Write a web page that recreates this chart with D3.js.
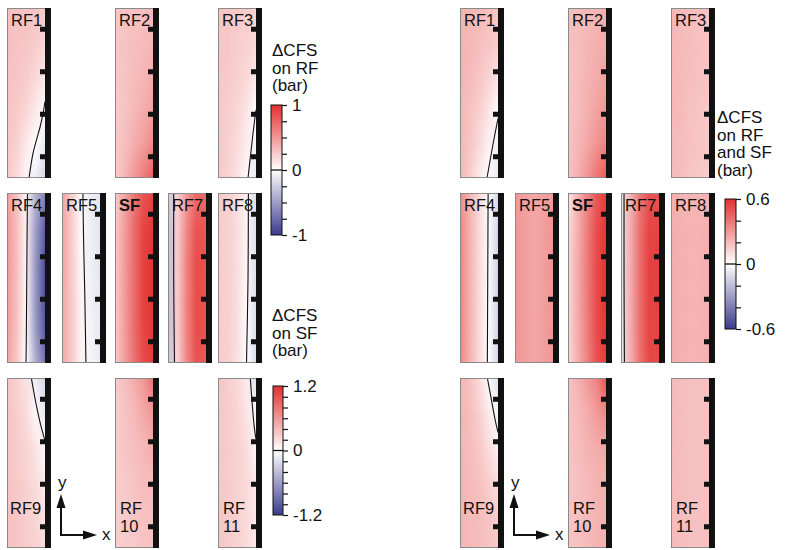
<!DOCTYPE html>
<html><head><meta charset="utf-8">
<script src="https://cdn.jsdelivr.net/npm/d3@7"></script>
<style>
body{margin:0;background:#fff}
svg{display:block}
text{font-family:"Liberation Sans",Arial,sans-serif;fill:#111}
</style>
</head><body><svg id="c" width="786" height="550"></svg>
<script>
// ---------- DATA ----------
// sampling positions inside each panel (fraction across x, fraction down y)
const uStops = [0, 0.25, 0.5, 0.75, 1];
const vStops = [0, 0.2, 0.4, 0.6, 0.8, 1];
const panelNames = ["RF1","RF2","RF3","RF4","RF5","SF","RF7","RF8","RF9","RF10","RF11"];

// Left block: ΔCFS on RF (bar), SF panel: ΔCFS on SF (bar)
const A_RF1 = [[0.31,0.30,0.29,0.28,0.26],[0.31,0.29,0.28,0.25,0.20],[0.30,0.28,0.25,0.19,0.11],[0.29,0.26,0.20,0.11,-0.02],[0.28,0.22,0.11,0.00,-0.11],[0.27,0.18,0.05,-0.09,-0.22]];
const A_RF2 = [[0.28,0.29,0.30,0.31,0.33],[0.27,0.29,0.31,0.33,0.35],[0.26,0.29,0.32,0.35,0.40],[0.25,0.29,0.34,0.40,0.46],[0.25,0.31,0.39,0.47,0.57],[0.25,0.35,0.50,0.64,0.78]];
const A_RF3 = [[0.28,0.27,0.26,0.24,0.22],[0.28,0.27,0.24,0.22,0.19],[0.27,0.26,0.23,0.19,0.11],[0.27,0.24,0.20,0.13,0.01],[0.27,0.23,0.18,0.09,-0.04],[0.26,0.22,0.14,0.03,-0.11]];
const A_RF4 = [[0.48,0.30,0.06,-0.38,-0.62],[0.50,0.32,0.07,-0.48,-0.82],[0.50,0.32,0.06,-0.52,-0.90],[0.50,0.31,0.05,-0.52,-0.90],[0.48,0.30,0.03,-0.50,-0.85],[0.45,0.27,0.00,-0.40,-0.70]];
const A_RF5 = [[0.46,0.24,0.02,-0.09,-0.13],[0.46,0.25,0.03,-0.09,-0.13],[0.46,0.25,0.04,-0.08,-0.13],[0.45,0.26,0.05,-0.07,-0.12],[0.44,0.26,0.06,-0.06,-0.11],[0.44,0.26,0.06,-0.05,-0.11]];
const A_SF  = [[0.28,0.52,0.78,1.00,1.08],[0.30,0.56,0.84,1.08,1.16],[0.30,0.57,0.85,1.10,1.18],[0.30,0.57,0.85,1.10,1.18],[0.30,0.56,0.84,1.08,1.16],[0.30,0.55,0.81,1.04,1.12]];
const A_RF7 = [[-0.26,0.22,0.50,0.72,0.72],[-0.32,0.25,0.58,0.83,0.80],[-0.32,0.25,0.61,0.86,0.83],[-0.32,0.25,0.61,0.86,0.83],[-0.32,0.25,0.61,0.86,0.83],[-0.30,0.22,0.58,0.83,0.80]];
const A_RF8 = [[0.25,0.23,0.17,0.07,-0.17],[0.25,0.23,0.17,0.06,-0.17],[0.25,0.23,0.17,0.05,-0.17],[0.25,0.23,0.17,0.03,-0.17],[0.25,0.23,0.16,0.01,-0.17],[0.25,0.23,0.16,-0.01,-0.17]];
const A_RF9 = [[0.29,0.22,0.13,-0.09,-0.22],[0.29,0.24,0.18,0.04,-0.11],[0.29,0.25,0.21,0.13,0.02],[0.29,0.26,0.22,0.17,0.09],[0.30,0.28,0.24,0.20,0.14],[0.30,0.28,0.25,0.22,0.18]];
const A_RF10 = [[0.24,0.31,0.39,0.50,0.68],[0.24,0.29,0.34,0.42,0.50],[0.24,0.28,0.31,0.35,0.40],[0.24,0.26,0.29,0.32,0.33],[0.24,0.25,0.28,0.30,0.31],[0.24,0.25,0.26,0.29,0.30]];
const A_RF11 = [[0.28,0.24,0.19,0.09,-0.16],[0.28,0.25,0.21,0.13,-0.04],[0.28,0.25,0.22,0.17,0.04],[0.28,0.25,0.22,0.18,0.11],[0.28,0.25,0.22,0.18,0.11],[0.28,0.25,0.22,0.18,0.11]];

// Right block: ΔCFS on RF and SF (bar)
const B_RF1 = [[0.22,0.21,0.20,0.18,0.17],[0.22,0.21,0.19,0.17,0.14],[0.22,0.20,0.17,0.13,0.08],[0.21,0.18,0.14,0.08,0.01],[0.21,0.17,0.11,0.04,-0.04],[0.21,0.15,0.06,-0.01,-0.06]];
const B_RF2 = [[0.19,0.19,0.20,0.21,0.23],[0.18,0.19,0.21,0.23,0.24],[0.17,0.19,0.22,0.24,0.27],[0.17,0.19,0.23,0.27,0.30],[0.17,0.21,0.25,0.31,0.36],[0.17,0.23,0.31,0.40,0.48]];
const B_RF3 = [[0.21,0.20,0.19,0.18,0.17],[0.21,0.20,0.19,0.18,0.17],[0.21,0.20,0.19,0.18,0.17],[0.21,0.20,0.18,0.17,0.16],[0.20,0.19,0.18,0.17,0.16],[0.20,0.19,0.17,0.16,0.15]];
const B_RF4 = [[0.34,0.22,0.11,-0.01,-0.12],[0.36,0.23,0.11,-0.01,-0.13],[0.36,0.23,0.11,-0.01,-0.14],[0.36,0.23,0.11,-0.01,-0.14],[0.36,0.23,0.11,-0.01,-0.13],[0.35,0.23,0.11,-0.01,-0.12]];
const B_RF5 = [[0.30,0.27,0.25,0.27,0.30],[0.31,0.28,0.26,0.28,0.31],[0.31,0.28,0.26,0.28,0.31],[0.31,0.28,0.26,0.28,0.31],[0.31,0.28,0.26,0.28,0.31],[0.30,0.28,0.26,0.28,0.30]];
const B_SF  = [[0.07,0.21,0.35,0.48,0.55],[0.10,0.23,0.37,0.51,0.58],[0.11,0.24,0.38,0.52,0.59],[0.11,0.24,0.38,0.52,0.59],[0.11,0.24,0.37,0.51,0.58],[0.11,0.23,0.36,0.50,0.56]];
const B_RF7 = [[-0.07,0.22,0.39,0.50,0.50],[-0.08,0.24,0.42,0.54,0.54],[-0.08,0.24,0.42,0.55,0.55],[-0.08,0.24,0.42,0.55,0.55],[-0.08,0.24,0.42,0.54,0.54],[-0.08,0.23,0.41,0.53,0.53]];
const B_RF8 = [[0.23,0.22,0.21,0.21,0.22],[0.24,0.23,0.22,0.22,0.23],[0.24,0.23,0.22,0.22,0.23],[0.24,0.23,0.22,0.22,0.23],[0.24,0.23,0.22,0.22,0.23],[0.24,0.23,0.22,0.22,0.23]];
const B_RF9 = [[0.22,0.18,0.11,-0.01,-0.09],[0.22,0.19,0.14,0.06,-0.02],[0.22,0.19,0.16,0.10,0.04],[0.22,0.20,0.18,0.14,0.10],[0.22,0.20,0.19,0.17,0.14],[0.22,0.20,0.19,0.18,0.16]];
const B_RF10 = [[0.17,0.22,0.29,0.36,0.50],[0.17,0.20,0.24,0.29,0.34],[0.17,0.19,0.22,0.24,0.26],[0.17,0.18,0.20,0.22,0.23],[0.17,0.18,0.20,0.22,0.23],[0.17,0.18,0.20,0.22,0.23]];
const B_RF11 = [[0.20,0.19,0.18,0.18,0.18],[0.20,0.19,0.18,0.18,0.18],[0.20,0.19,0.18,0.18,0.18],[0.20,0.19,0.18,0.18,0.18],[0.20,0.19,0.18,0.18,0.18],[0.20,0.19,0.18,0.18,0.18]];

// zero-ΔCFS contour lines [x-fraction, y-fraction]
const A_RF1_zero = [[1,0.55],[0.95,0.62],[0.87,0.70],[0.77,0.78],[0.68,0.86],[0.58,1]];
const A_RF3_zero = [[1,0.60],[0.97,0.65],[0.92,0.74],[0.86,0.86],[0.79,1]];
const A_RF4_zero = [[0.54,0],[0.53,0.2],[0.52,0.5],[0.51,0.8],[0.50,1]];
const A_RF5_zero = [[0.55,0],[0.57,0.3],[0.60,0.6],[0.63,1]];
const A_RF7_zero = [[0.15,0],[0.15,0.5],[0.17,1]];
const A_RF8_zero = [[0.80,0],[0.79,0.5],[0.75,1]];
const A_RF9_zero = [[0.64,0],[0.72,0.1],[0.79,0.18],[0.88,0.27],[1,0.37]];
const A_RF11_zero = [[0.85,0],[0.90,0.15],[0.95,0.28],[1,0.36]];
const B_RF1_zero = [[1,0.65],[0.87,0.80],[0.71,1]];
const B_RF4_zero = [[0.74,0],[0.73,0.5],[0.72,1]];
const B_RF7_zero = [[0.08,0],[0.08,0.5],[0.09,1]];
const B_RF9_zero = [[0.72,0],[0.82,0.12],[0.92,0.24],[1,0.32]];

// colour-bar ranges and tick labels
const cbRF   = {max:1,   step:0.25, labels:["1","0","-1"]};
const cbSF   = {max:1.2, step:0.2,  labels:["1.2","0","-1.2"]};
const cbBoth = {max:0.6, step:0.2,  labels:["0.6","0","-0.6"]};
const depthTicks = [0.125, 0.375, 0.625, 0.875];

// ---------- LAYOUT ----------
const leftFields  = [A_RF1,A_RF2,A_RF3,A_RF4,A_RF5,A_SF,A_RF7,A_RF8,A_RF9,A_RF10,A_RF11];
const rightFields = [B_RF1,B_RF2,B_RF3,B_RF4,B_RF5,B_SF,B_RF7,B_RF8,B_RF9,B_RF10,B_RF11];
const leftZero  = {RF1:A_RF1_zero,RF3:A_RF3_zero,RF4:A_RF4_zero,RF5:A_RF5_zero,RF7:A_RF7_zero,RF8:A_RF8_zero,RF9:A_RF9_zero,RF11:A_RF11_zero};
const rightZero = {RF1:B_RF1_zero,RF4:B_RF4_zero,RF7:B_RF7_zero,RF9:B_RF9_zero};
const gridPos = {RF1:[0,0],RF2:[2,0],RF3:[4,0],RF4:[0,1],RF5:[1,1],SF:[2,1],RF7:[3,1],RF8:[4,1],RF9:[0,2],RF10:[2,2],RF11:[4,2]};
const colX = [7,62,115,168,218], rowY = [8,193,378];
const halfOffset = [0,453];
const panelW = 44, panelH = 170, barW = 6;
const RED = "#e3302f", BLUE = "#3b3b8e";
const FS = 16.5;

const svg = d3.select("#c");
const defs = svg.append("defs");
const fade = defs.append("linearGradient").attr("id","vfade").attr("x1",0).attr("y1",0).attr("x2",0).attr("y2",1);
fade.append("stop").attr("offset",0).attr("stop-color","#fff").attr("stop-opacity",0);
fade.append("stop").attr("offset",1).attr("stop-color","#fff").attr("stop-opacity",1);
defs.append("mask").attr("id","vmask").attr("maskContentUnits","objectBoundingBox")
  .append("rect").attr("width",1).attr("height",1).attr("fill","url(#vfade)");

let gid = 0;
function drawPanel(name, field, zero, maxV, x0, y0){
  const g = svg.append("g");
  const fw = panelW - barW;
  const xs = d3.scaleLinear().domain([0,1]).range([x0, x0+fw]);
  const ys = d3.scaleLinear().domain([0,1]).range([y0, y0+panelH]);
  const col = d3.scaleLinear().domain([-maxV,0,maxV]).range([BLUE,"#ffffff",RED]).clamp(true);
  const ids = field.map(row=>{
    const id = "rg"+(gid++);
    const gr = defs.append("linearGradient").attr("id",id).attr("x1",0).attr("x2",1).attr("y1",0).attr("y2",0);
    row.forEach((v,j)=>gr.append("stop").attr("offset",uStops[j]).attr("stop-color",col(v)));
    return id;
  });
  for(let i=0;i<vStops.length-1;i++){
    const ya = ys(vStops[i]), yb = ys(vStops[i+1]);
    const hh = (yb-ya) + (i<vStops.length-2 ? 0.7 : 0);
    g.append("rect").attr("x",xs(0)).attr("y",ya).attr("width",fw).attr("height",hh).attr("fill",`url(#${ids[i]})`);
    g.append("rect").attr("x",xs(0)).attr("y",ya).attr("width",fw).attr("height",hh).attr("fill",`url(#${ids[i+1]})`).attr("mask","url(#vmask)");
  }
  if(zero){
    g.append("path").datum(zero)
      .attr("d", d3.line().x(d=>xs(d[0])).y(d=>ys(d[1])).curve(d3.curveCatmullRom))
      .attr("fill","none").attr("stroke","#111").attr("stroke-width",1.1);
  }
  g.append("rect").attr("x",x0+0.5).attr("y",y0+0.5).attr("width",panelW-1).attr("height",panelH-1)
    .attr("fill","none").attr("stroke","#8a8a8a").attr("stroke-width",1);
  const bx = x0+panelW-barW;
  g.append("rect").attr("x",bx).attr("y",y0).attr("width",barW).attr("height",panelH).attr("fill","#111");
  g.selectAll(".dt").data(depthTicks).join("rect")
    .attr("x",bx-5).attr("y",d=>ys(d)-2.5).attr("width",6).attr("height",5).attr("fill","#111");
  const row = gridPos[name][1];
  const t = g.append("text").attr("font-size",FS);
  if(name==="SF") t.attr("font-weight","bold");
  if(row<2){
    t.attr("x",x0+4).attr("y",y0+18).text(name);
  } else if(name==="RF9"){
    t.attr("x",x0+3).attr("y",y0+136).text(name);
  } else {
    t.attr("x",x0+5).attr("y",y0+136).text("RF");
    g.append("text").attr("font-size",FS).attr("x",x0+5).attr("y",y0+154).text(name.slice(2));
  }
}

panelNames.forEach((n,k)=>{
  const [c,r] = gridPos[n];
  drawPanel(n, leftFields[k], leftZero[n], n==="SF"?cbSF.max:cbRF.max, colX[c]+halfOffset[0], rowY[r]);
  drawPanel(n, rightFields[k], rightZero[n], cbBoth.max, colX[c]+halfOffset[1], rowY[r]);
});

// ---------- COLOUR BARS ----------
function colorbar(cb, x, y, w, h){
  const g = svg.append("g");
  const ys = d3.scaleLinear().domain([cb.max,-cb.max]).range([y,y+h]);
  const id = "cb"+(gid++);
  const gr = defs.append("linearGradient").attr("id",id).attr("x1",0).attr("x2",0).attr("y1",0).attr("y2",1);
  const col = d3.scaleLinear().domain([-cb.max,0,cb.max]).range([BLUE,"#ffffff",RED]);
  [cb.max,0,-cb.max].forEach(v=>gr.append("stop").attr("offset",(ys(v)-y)/h).attr("stop-color",col(v)));
  g.append("rect").attr("x",x).attr("y",y).attr("width",w).attr("height",h).attr("fill",`url(#${id})`)
    .attr("stroke","#111").attr("stroke-width",1);
  g.append("line").attr("x1",x).attr("x2",x+w).attr("y1",ys(0)).attr("y2",ys(0)).attr("stroke","#111").attr("stroke-width",1.3);
  const n = Math.round(cb.max/cb.step);
  const vals = d3.range(-n,n+1).map(i=>i*cb.step);
  const lab = d => {
    const idx = [cb.max,0,-cb.max].findIndex(v=>Math.abs(v-d)<1e-6);
    return idx>=0 ? cb.labels[idx] : "";
  };
  const ax = g.append("g").attr("transform",`translate(${x+w},0)`)
    .call(d3.axisRight(ys).tickValues(vals).tickSize(5).tickSizeOuter(0).tickPadding(5).tickFormat(lab));
  ax.select(".domain").remove();
  ax.selectAll("text").attr("font-size",17).attr("font-family",null).style("fill","#111");
  ax.selectAll("line").attr("stroke","#111").attr("stroke-width",1.2);
}
colorbar(cbRF, 271, 105, 11, 130);
colorbar(cbSF, 273, 386, 10, 129);
colorbar(cbBoth, 725, 199, 11, 130);

// ---------- TITLES ----------
function title(lines, x, y0, dy){
  lines.forEach((s,i)=>svg.append("text").attr("x",x).attr("y",y0+i*dy).attr("font-size",17).text(s));
}
title(["ΔCFS","on RF","(bar)"], 272, 56, 17.5);
title(["ΔCFS","on SF","(bar)"], 272, 321, 17.5);
title(["ΔCFS","on RF","and SF","(bar)"], 717, 123, 17.5);

// ---------- AXIS ARROWS ----------
halfOffset.forEach(off=>{
  const cx = 61+off, cy = 535;
  const g = svg.append("g");
  g.append("path").attr("d", d3.line()([[cx,cy-30],[cx,cy],[cx+24,cy]])).attr("fill","none").attr("stroke","#111").attr("stroke-width",2);
  g.append("path").attr("d", d3.line()([[cx,cy-41],[cx-4.5,cy-27],[cx+4.5,cy-27]])+"Z").attr("fill","#111");
  g.append("path").attr("d", d3.line()([[cx+36,cy],[cx+22,cy-4.5],[cx+22,cy+4.5]])+"Z").attr("fill","#111");
  g.append("text").attr("x",cx-3).attr("y",cy-47).attr("font-size",17).text("y");
  g.append("text").attr("x",cx+41).attr("y",cy+5).attr("font-size",17).text("x");
});
</script>
</body></html>
